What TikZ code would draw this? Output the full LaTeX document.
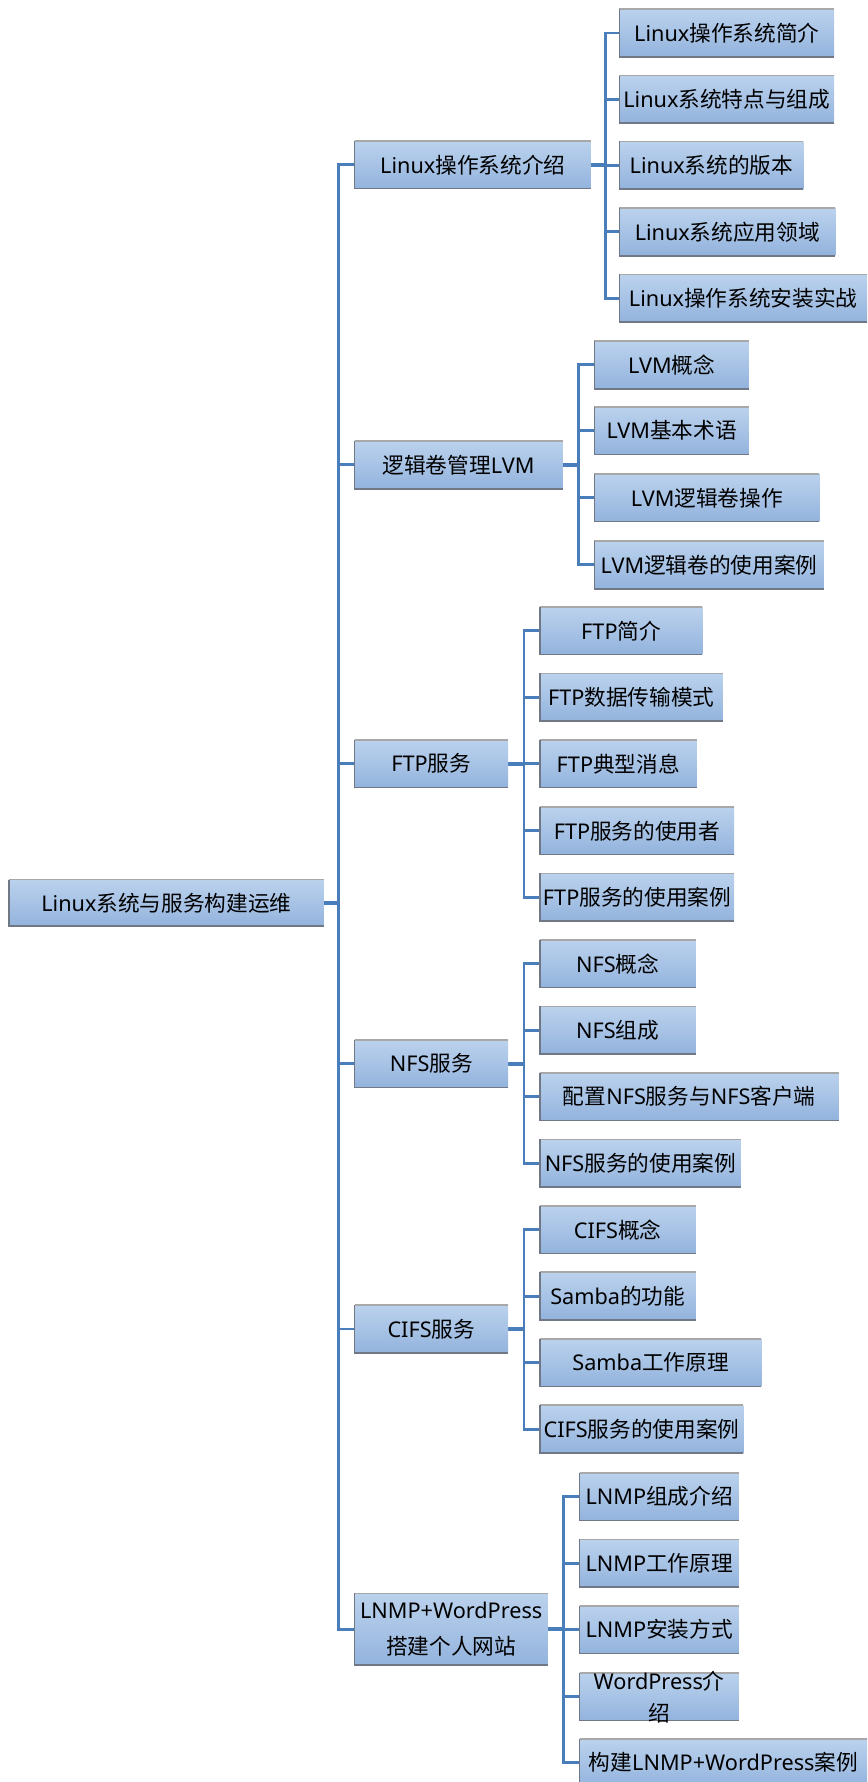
\documentclass[tikz,border=0pt]{standalone}
\usepackage{fontspec}
\setmainfont{Noto Sans}
\newfontfamily\cjkf{Noto Sans CJK SC}
\newfontfamily\latf{Noto Sans}
\XeTeXinterchartokenstate=1
\newXeTeXintercharclass\CJKcls
\newcount\cjkc
\cjkc="4E00
\loop
  \XeTeXcharclass\cjkc=\CJKcls
  \ifnum\cjkc<"9FFF \advance\cjkc by 1
\repeat
\XeTeXinterchartoks 0 \CJKcls={\cjkf}
\XeTeXinterchartoks 4095 \CJKcls={\cjkf}
\XeTeXinterchartoks \CJKcls 0={\latf}
\usetikzlibrary{backgrounds}
\definecolor{linec}{HTML}{4A7EBB}
\definecolor{ftop}{HTML}{BBD2ED}
\definecolor{fbot}{HTML}{93B3DD}
\definecolor{edgedark}{HTML}{6F7884}
\definecolor{edgelight}{HTML}{A8A8A8}
\tikzset{
  boxn/.style={rectangle, inner sep=0pt, outer sep=0pt, top color=ftop, bottom color=fbot, draw=none},
  edgeT/.style={draw=edgelight, line width=1.1pt},
  edgeL/.style={draw=edgedark, line width=1.1pt},
  txt/.style={inner sep=0pt, align=center, font=\fontsize{14.3pt}{21pt}\selectfont, text=black},
  conn/.style={draw=linec, line width=1.8pt},
  pconn/.style={draw=linec, line width=2.6pt}
}
\newcommand\bx[6]{%
  \node[boxn, minimum width={(#3-#2)*0.75pt}, minimum height={(#5-#4)*0.75pt}] (#1) at ({(#2+#3)/2},{(#4+#5)/2}) {};
  \draw[edgeT] (#1.north east) -- (#1.north west);
  \draw[edgeL] (#1.north west) -- (#1.south west) -- (#1.south east);
  \node[txt] (#1t) at (#1.center) {#6};
}
\begin{document}
\begin{tikzpicture}[x=0.75pt,y=-0.75pt]
\clip (0,0) rectangle (763,1568);
% root
\bx{root}{8}{285}{774}{815}{Linux系统与服务构建运维}
% group A
\bx{A}{312}{520}{124}{166}{Linux操作系统介绍}
\bx{A1}{545}{734}{8}{50}{Linux操作系统简介}
\bx{A2}{545}{734}{66.5}{108.5}{Linux系统特点与组成}
\bx{A3}{545}{707}{124.5}{166.5}{Linux系统的版本}
\bx{A4}{545}{735}{183}{225}{Linux系统应用领域}
\bx{A5}{545}{763}{241.5}{283.5}{Linux操作系统安装实战}
% group B
\bx{B}{312}{495}{388}{430}{逻辑卷管理LVM}
\bx{B1}{523}{659}{300}{342}{LVM概念}
\bx{B2}{523}{659}{358}{400}{LVM基本术语}
\bx{B3}{523}{721}{417}{459}{LVM逻辑卷操作}
\bx{B4}{523}{725}{476}{518}{LVM逻辑卷的使用案例}
% group C
\bx{C}{312}{447}{651}{693}{FTP服务}
\bx{C1}{475}{618}{534}{576}{FTP简介}
\bx{C2}{475}{636}{592.5}{634.5}{FTP数据传输模式}
\bx{C3}{475}{613}{651}{693}{FTP典型消息}
\bx{C4}{475}{646}{710}{752}{FTP服务的使用者}
\bx{C5}{475}{646}{768.5}{810.5}{FTP服务的使用案例}
% group D
\bx{D}{312}{447}{915}{957}{NFS服务}
\bx{D1}{475}{612}{827}{869}{NFS概念}
\bx{D2}{475}{612}{885.5}{927.5}{NFS组成}
\bx{D3}{475}{738}{944}{986}{配置NFS服务与NFS客户端}
\bx{D4}{475}{652}{1002.5}{1044.5}{NFS服务的使用案例}
% group E
\bx{E}{312}{447}{1148.5}{1190.5}{CIFS服务}
\bx{E1}{475}{612}{1061}{1103}{CIFS概念}
\bx{E2}{475}{612}{1119.5}{1161.5}{Samba的功能}
\bx{E3}{475}{670}{1178}{1220}{Samba工作原理}
\bx{E4}{475}{654}{1236.5}{1278.5}{CIFS服务的使用案例}
% group F
\bx{F}{312}{482}{1402}{1465}{LNMP+WordPress\\[3pt]搭建个人网站}
\bx{F1}{510}{650}{1296}{1338}{LNMP组成介绍}
\bx{F2}{510}{650}{1354.5}{1396.5}{LNMP工作原理}
\bx{F3}{510}{650}{1413}{1455}{LNMP安装方式}
\bx{F4}{510}{650}{1472}{1514}{WordPress介\\绍}
\bx{F5}{510}{763}{1530}{1572}{构建LNMP+WordPress案例}
\begin{scope}[on background layer]
% trunk
\draw[conn] (A.west) -- ++(-14,0) coordinate (tA) |- (F.west);
\foreach \n in {B,C,D,E} \draw[conn] (\n.west) -- (\n.west -| tA);
\draw[pconn] (root.east) -- (root.east -| tA);
% A
\draw[conn] (A1.west) -- ++(-12,0) coordinate (sA) |- (A5.west);
\foreach \n in {A2,A3,A4} \draw[conn] (\n.west) -- (\n.west -| sA);
\draw[pconn] (A.east) -- (A.east -| sA);
% B
\draw[conn] (B1.west) -- ++(-14,0) coordinate (sB) |- (B4.west);
\foreach \n in {B2,B3} \draw[conn] (\n.west) -- (\n.west -| sB);
\draw[pconn] (B.east) -- (B.east -| sB);
% C
\draw[conn] (C1.west) -- ++(-14,0) coordinate (sC) |- (C5.west);
\foreach \n in {C2,C3,C4} \draw[conn] (\n.west) -- (\n.west -| sC);
\draw[pconn] (C.east) -- (C.east -| sC);
% D
\draw[conn] (D1.west) -- ++(-14,0) coordinate (sD) |- (D4.west);
\foreach \n in {D2,D3} \draw[conn] (\n.west) -- (\n.west -| sD);
\draw[pconn] (D.east) -- (D.east -| sD);
% E
\draw[conn] (E1.west) -- ++(-14,0) coordinate (sE) |- (E4.west);
\foreach \n in {E2,E3} \draw[conn] (\n.west) -- (\n.west -| sE);
\draw[pconn] (E.east) -- (E.east -| sE);
% F
\draw[conn] (F1.west) -- ++(-14,0) coordinate (sF) |- (F5.west);
\foreach \n in {F2,F3,F4} \draw[conn] (\n.west) -- (\n.west -| sF);
\draw[pconn] (F.east) -- (F.east -| sF);
\end{scope}
\end{tikzpicture}
\end{document}
